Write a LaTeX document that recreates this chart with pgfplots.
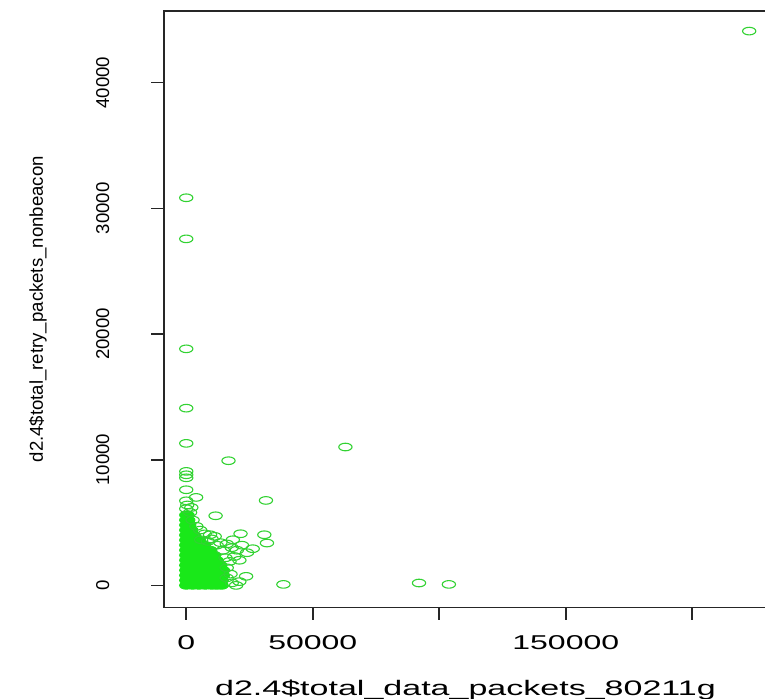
\documentclass[border=0pt]{standalone}
\usepackage{pgfplots}
\pgfplotsset{compat=1.18}
\usepackage{fontspec}
\setmainfont{Liberation Sans}
\newfontfamily\xfont[FakeStretch=1.6]{Liberation Sans}
\newfontfamily\xlfont[FakeStretch=1.62]{Liberation Sans}
\definecolor{rgreen}{RGB}{50,210,50}
\definecolor{cgreen}{RGB}{25,232,25}
\begin{document}
\begin{tikzpicture}
\begin{axis}[
  scale only axis, width=301.45pt, height=298.2pt,
  xmin=-8800, xmax=229500, ymin=-1750, ymax=45700,
  axis line style={line width=0.8pt, black!85},
  tick style={line width=0.8pt, black!85},
  tick align=outside, major tick length=6.25pt,
  xtick pos=left, ytick pos=left,
  xtick={0,50000,100000,150000,200000}, xticklabels={0,50000,,150000,},
  ytick={0,10000,20000,30000,40000}, yticklabels={0,10000,20000,30000,40000},
  xticklabel style={yshift=-7.5pt, anchor=north, inner sep=0pt, font=\xfont\fontsize{10}{12}\selectfont},
  yticklabel style={xshift=-20.9pt, rotate=90, anchor=south, inner sep=0pt, font=\fontsize{9.3}{11}\selectfont},
  scaled ticks=false,
  xlabel={d2.4\$total\_data\_packets\_80211g},
  ylabel={d2.4\$total\_retry\_packets\_nonbeacon},
  every axis x label/.style={at={(axis description cs:0.5,0)}, yshift=-44pt, anchor=base, inner sep=0pt, font=\xlfont\fontsize{10.5}{12}\selectfont},
  every axis y label/.style={at={(axis description cs:0,0.5)}, xshift=-60.5pt, rotate=90, anchor=base, inner sep=0pt, font=\fontsize{9.3}{11}\selectfont},
]
\addplot[only marks, mark=*, mark size=1.9pt, mark options={xscale=1.75, fill=cgreen, draw=cgreen, line width=0.5pt}] coordinates {
(0,0) (2500,0) (5000,0) (7500,0) (10000,0) (12000,0) (14000,0)
(0,400) (2500,400) (5000,400) (7500,400) (10000,400) (12000,400) (14000,400)
(0,800) (2500,800) (5000,800) (7500,800) (10000,800) (12000,800) (14500,800)
(0,1200) (2500,1200) (5000,1200) (7500,1200) (10000,1200) (12000,1200) (14500,1200)
(0,1600) (2500,1600) (5000,1600) (7500,1600) (10000,1600) (12000,1600) (13500,1600)
(0,2000) (2500,2000) (5000,2000) (7500,2000) (10000,2000) (12000,2000)
(0,2400) (2500,2400) (5000,2400) (7500,2400) (10000,2400) (11000,2400)
(0,2800) (2500,2800) (5000,2800) (7500,2800) (9500,2800)
(0,3200) (2500,3200) (5000,3200) (7000,3200)
(0,3600) (2500,3600) (5000,3600)
(0,4000) (1500,4000) (3000,4000)
(0,4400) (1000,4400) (2000,4400)
(0,4800) (1200,4800)
(0,5200) (800,5200)
(0,5600) (500,5600)
};
\addplot[only marks, mark=o, mark size=1.9pt, mark options={xscale=1.75, draw=rgreen, line width=0.55pt}] coordinates {
(0,6100) (400,6400) (0,6730) (0,7610) (0,8560) (0,8800) (0,9070)
(0,11300) (0,14100) (0,18820) (0,27570) (0,30840)
(3900,7000) (2000,6200) (1500,5800) (2500,5200) (4000,4700) (5500,4400)
(7300,4100) (9400,4030) (11250,3900) (11600,5540) (16700,9920)
(18400,3630) (21450,4110) (30860,4030) (31500,6760) (31900,3370)
(26270,2920) (24000,2600) (22000,3200) (20000,2800) (18000,3000)
(16000,3300) (14500,2800) (13500,3400) (12000,3200) (15500,2200)
(17100,1910) (19000,2300) (21000,2000) (16000,1400) (17500,900)
(16000,600) (19700,0) (23650,720) (21000,300) (18000,200)
(10000,3700) (8500,3500) (5900,3630)
(38400,80) (62900,11010) (92000,190) (103800,80) (222500,44100)
};
\coordinate (BL) at (rel axis cs:0,0);
\coordinate (TL) at (rel axis cs:0,1);
\end{axis}
\pgfresetboundingbox
\path[use as bounding box] ([shift={(-82pt,-45.5pt)}]BL) rectangle ([shift={(300.5pt,5.5pt)}]TL);
\end{tikzpicture}
\end{document}
